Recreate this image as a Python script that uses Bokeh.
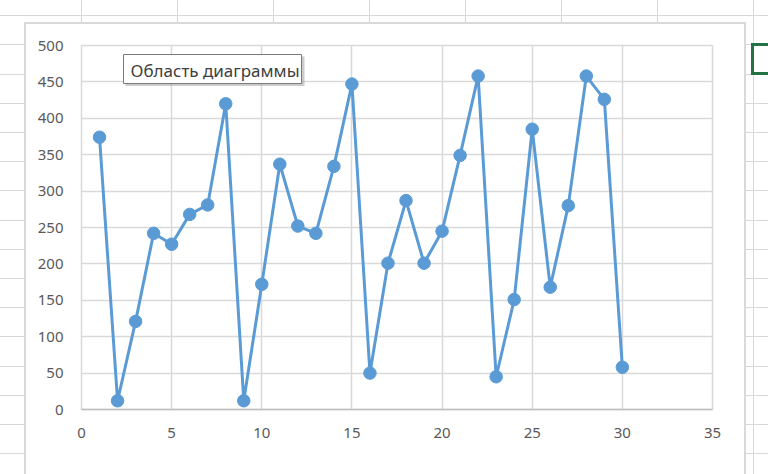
from bokeh.plotting import figure
from bokeh.models import Range1d, FixedTicker, BoxAnnotation, Label
from bokeh.embed import file_html
from bokeh.resources import INLINE

# ---- data ----
x_values = list(range(1, 31))
y_values = [374, 12, 121, 242, 227, 268, 281, 420, 12, 172,
            337, 252, 242, 334, 447, 50, 201, 287, 201, 245,
            349, 458, 45, 151, 385, 168, 280, 458, 426, 58]
x_ticks = [0, 5, 10, 15, 20, 25, 30, 35]
y_ticks = [0, 50, 100, 150, 200, 250, 300, 350, 400, 450, 500]
tooltip_text = "Область диаграммы"

# ---- layout (pixel geometry) ----
W, H = 768, 474
FL, FR, FT, FB = 81, 712, 45, 409
XMIN, XMAX, YMIN, YMAX = 0, 35, 0, 500

# page decoration (spreadsheet grid, chart box, selected cell) as CSS layers
layers = []


def css_rect(x, y, w, h, color):
    layers.append(f"linear-gradient({color},{color}) {x}px {y}px / {w}px {h}px no-repeat")


GREEN = "#217346"
css_rect(751, 43, 3, 31, GREEN)
css_rect(751, 43, 20, 3, GREEN)
css_rect(751, 72, 20, 3, GREEN)
BOX = "#d9d9d9"
css_rect(24, 22, 2, H, BOX)
css_rect(24, 22, 722, 2, BOX)
css_rect(744, 22, 2, H, BOX)
css_rect(25, 23, 720, H, "#ffffff")
SHEET = "#d8d8d8"
for k in range(8):
    css_rect(round(80.8 + 96 * k), 0, 1, H, SHEET)
for k in range(17):
    css_rect(0, round(15.3 + 29.2 * k), W, 1, SHEET)
layers.append("#ffffff")

p = figure(width=W, height=H, output_backend="svg", toolbar_location=None,
           x_range=Range1d(XMIN, XMAX), y_range=Range1d(YMIN, YMAX),
           min_border_left=FL, min_border_right=W - FR,
           min_border_top=FT, min_border_bottom=H - FB,
           background_fill_color="white", border_fill_color=None,
           styles={"background": ", ".join(layers)})


def dx(px):
    return XMIN + (px - FL) * (XMAX - XMIN) / (FR - FL)


def dy(py):
    return YMIN + (FB - py) * (YMAX - YMIN) / (FB - FT)


# ---- axes & grid ----
p.xaxis.ticker = FixedTicker(ticks=x_ticks)
p.yaxis.ticker = FixedTicker(ticks=y_ticks)
for ax in (p.xaxis, p.yaxis):
    ax.major_tick_line_color = None
    ax.minor_tick_line_color = None
    ax.major_tick_out = 0
    ax.major_tick_in = 0
    ax.minor_tick_out = 0
    ax.minor_tick_in = 0
    ax.major_label_text_font = "Noto Sans"
    ax.major_label_text_font_size = "15px"
    ax.major_label_text_color = "#595959"
p.yaxis.axis_line_color = None
p.yaxis.major_label_standoff = 18
p.xaxis.axis_line_color = "#bfbfbf"
p.xaxis.axis_line_width = 1.5
p.xaxis.major_label_standoff = 18

p.xgrid.grid_line_color = "#d9d9d9"
p.ygrid.grid_line_color = "#d9d9d9"
p.xgrid.grid_line_width = 1.5
p.ygrid.grid_line_width = 1.5
p.outline_line_color = "#d9d9d9"
p.outline_line_width = 1.5

# ---- series ----
p.line(x_values, y_values, line_color="#5b9bd5", line_width=3)
p.scatter(x_values, y_values, size=12.5, fill_color="#5b9bd5",
          line_color="#5b9bd5", line_width=1)

# ---- tooltip ----
shadow = BoxAnnotation(left=dx(125), right=dx(304), top=dy(56), bottom=dy(85.5),
                       fill_color="#9a9a9a", fill_alpha=0.5, line_color=None, level="overlay")
p.add_layout(shadow)
tip = BoxAnnotation(left=dx(123), right=dx(301), top=dy(54), bottom=dy(83),
                    fill_color="white", fill_alpha=1.0, line_color="#7a7a7a",
                    line_width=1, line_alpha=1.0, level="overlay")
p.add_layout(tip)
lab = Label(x=dx(130), y=dy(70), text=tooltip_text, text_font="Noto Sans",
            text_font_size="17px", text_color="#404040", text_baseline="alphabetic",
            text_align="left", level="overlay")
p.add_layout(lab)

open("out.html", "w").write(file_html(p, INLINE))
